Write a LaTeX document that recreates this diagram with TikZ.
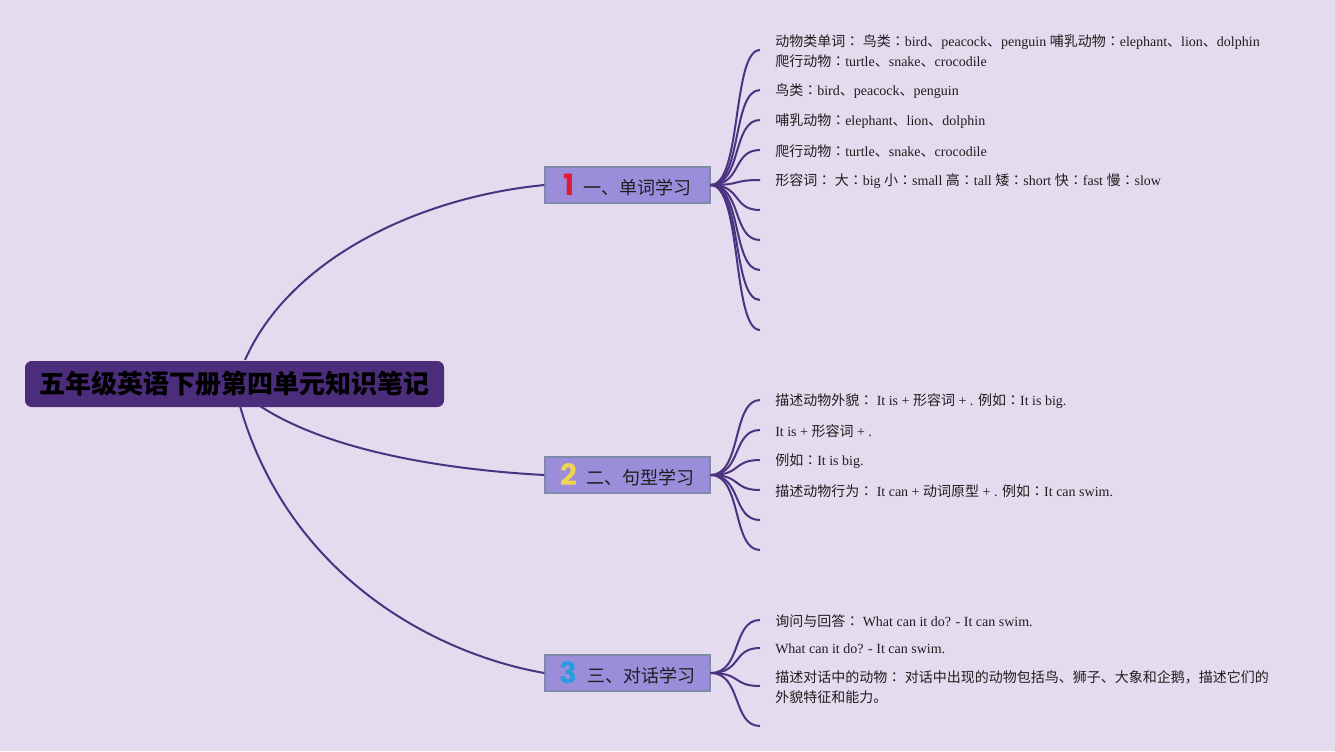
\documentclass[tikz,border=0pt]{standalone}
\usepackage{fontspec}
\setmainfont{Liberation Serif}
\newfontfamily\cjk{Noto Sans CJK SC}
\newfontfamily\cjkj{Noto Sans CJK JP}
\newfontfamily\numf{Poppins}
\newcommand\C[1]{{\cjk #1}}
\newcommand\Q{{\cjkj ：}}
\definecolor{bgc}{HTML}{E4DCEE}
\definecolor{rootc}{HTML}{4B2D7C}
\definecolor{brc}{HTML}{9C8DDA}
\definecolor{brd}{HTML}{7E8BA6}
\definecolor{linkc}{HTML}{4A3482}
\definecolor{txt}{HTML}{1E1E1E}
\definecolor{n1}{HTML}{E01A34}
\definecolor{n2}{HTML}{F0D550}
\definecolor{n3}{HTML}{2A9BE0}
\begin{document}
\begin{tikzpicture}[x=0.75pt,y=-0.75pt,
  root/.style={fill=rootc, rounded corners=5pt, minimum width=314.25pt, minimum height=34.5pt, inner sep=0pt, text=black},
  branch/.style={fill=brc, draw=brd, line width=0.9pt, minimum width=123.75pt, minimum height=27pt, inner sep=0pt, text=txt},
  leaf/.style={anchor=west, align=left, inner sep=0pt, text=txt, font=\fontsize{10.5}{15}\selectfont},
  link/.style={draw=linkc, line width=1.5pt}]
\fill[bgc] (0,0) rectangle (1335,751);
\useasboundingbox (0,0) rectangle (1335,751);

\node[root] (root) at (234.5,384) {\cjk\bfseries\fontsize{19.5}{22}\selectfont 五年级英语下册第四单元知识笔记};

\node[branch] (b1) at (627.5,185) {\raisebox{-1pt}{\numf\bfseries\fontsize{22}{24}\selectfont\color{n1}1}\hspace{7pt}{\cjk\fontsize{13.5}{16}\selectfont 一、单词学习}};
\node[branch] (b2) at (627.5,475) {\raisebox{-1pt}{\numf\bfseries\fontsize{22}{24}\selectfont\color{n2}2}\hspace{7pt}{\cjk\fontsize{13.5}{16}\selectfont 二、句型学习}};
\node[branch] (b3) at (627.5,673) {\raisebox{-1pt}{\numf\bfseries\fontsize{22}{24}\selectfont\color{n3}3}\hspace{7pt}{\cjk\fontsize{13.5}{16}\selectfont 三、对话学习}};

\coordinate (r1) at (245,360);
\coordinate (r2) at (260,406);
\coordinate (r3) at (240,406);
\draw[link] (r1) .. controls (290,258) and (420,197) .. (b1.west);
\draw[link] (r2) .. controls (330,452) and (450,470) .. (b2.west);
\draw[link] (r3) .. controls (290,580) and (440,655) .. (b3.west);

\foreach \y [count=\i] in {50,90,120,150,180,210,240,270,300,330}{
  \coordinate (l1-\i) at (760,\y);
  \draw[link] (b1.east) .. controls (742,185) and (732,\y) .. (l1-\i);
}
\foreach \y [count=\i] in {400,430,460,490,520,550}{
  \coordinate (l2-\i) at (760,\y);
  \draw[link] (b2.east) .. controls (742,475) and (732,\y) .. (l2-\i);
}
\foreach \y [count=\i] in {620,648,686,726}{
  \coordinate (l3-\i) at (760,\y);
  \draw[link] (b3.east) .. controls (742,673) and (732,\y) .. (l3-\i);
}

\node[leaf] (t11) at (775,51) {\C{动物类单词}\Q\ \C{鸟类}\Q bird\C{、}peacock\C{、}penguin \C{哺乳动物}\Q elephant\C{、}lion\C{、}dolphin\\\C{爬行动物}\Q turtle\C{、}snake\C{、}crocodile};
\node[leaf] (t12) at (775,91) {\C{鸟类}\Q bird\C{、}peacock\C{、}penguin};
\node[leaf] (t13) at (775,121) {\C{哺乳动物}\Q elephant\C{、}lion\C{、}dolphin};
\node[leaf] (t14) at (775,151) {\C{爬行动物}\Q turtle\C{、}snake\C{、}crocodile};
\node[leaf] (t15) at (775,181) {\C{形容词}\Q\ \C{大}\Q big \C{小}\Q small \C{高}\Q tall \C{矮}\Q short \C{快}\Q fast \C{慢}\Q slow};

\node[leaf] (t21) at (775,401) {\C{描述动物外貌}\Q\ It is + \C{形容词} + . \C{例如}\Q It is big.};
\node[leaf] (t22) at (775,431) {It is + \C{形容词} + .};
\node[leaf] (t23) at (775,461) {\C{例如}\Q It is big.};
\node[leaf] (t24) at (775,491) {\C{描述动物行为}\Q\ It can + \C{动词原型} + . \C{例如}\Q It can swim.};

\node[leaf] (t31) at (775,621) {\C{询问与回答}\Q\ What can it do? - It can swim.};
\node[leaf] (t32) at (775,649) {What can it do? - It can swim.};
\node[leaf] (t33) at (775,687) {\C{描述对话中的动物}\Q\ \C{对话中出现的动物包括鸟、狮子、大象和企鹅，描述它们的}\\\C{外貌特征和能力。}};
\end{tikzpicture}
\end{document}
